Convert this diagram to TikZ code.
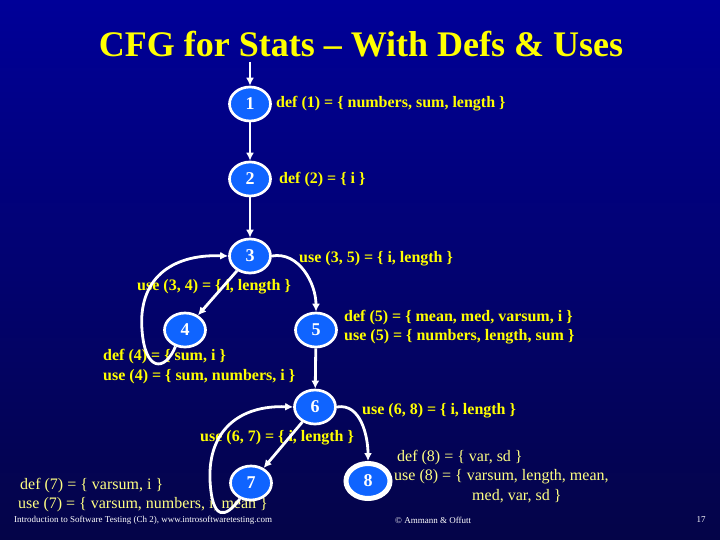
\documentclass[tikz,border=0pt]{standalone}
\usepackage{fontspec}
\setmainfont{Liberation Serif}
\usetikzlibrary{arrows.meta,shapes.geometric}
\definecolor{bgtop}{RGB}{0,0,152}
\definecolor{bgbot}{RGB}{4,4,72}
\definecolor{nodeblue}{RGB}{15,100,255}
\definecolor{ylw}{RGB}{255,255,0}
\definecolor{ylwl}{RGB}{255,255,130}
\begin{document}
\begin{tikzpicture}[x=1pt,y=-1pt,
 cfgnode/.style={ellipse, draw=white, line width=2.7pt, fill=nodeblue, minimum width=41pt, minimum height=34pt, inner sep=0pt, text=white, font=\bfseries\fontsize{18}{18}\selectfont},
 edge/.style={draw=white, line width=2.8pt, -{Latex[length=8pt,width=8pt]}},
 lbl/.style={text=ylw, font=\bfseries\fontsize{16}{18}\selectfont, anchor=west, inner sep=0pt},
 lbln/.style={text=ylwl, font=\fontsize{16}{18}\selectfont, anchor=west, inner sep=0pt},
 foot/.style={text=white, font=\fontsize{9}{10}\selectfont, inner sep=0pt}]
\shade[top color=bgtop, bottom color=bgbot] (0,0) rectangle (720,540);
\useasboundingbox (0,0) rectangle (720,540);

\node[text=ylw, font=\bfseries\fontsize{36}{38}\selectfont] (title) at (361,44) {CFG for Stats – With Defs \& Uses};

% labels
\node[lbl] (l1) at (276,104) {def (1) = \{ numbers, sum, length \}};
\node[lbl] (l2) at (279,180) {def (2) = \{ i \}};
\node[lbl] (l35) at (299,259) {use (3, 5) = \{ i, length \}};
\node[lbl] (l34) at (137,287) {use (3, 4) = \{ i, length \}};
\node[lbl] (l5a) at (344,318) {def (5) = \{ mean, med, varsum, i \}};
\node[lbl] (l5b) at (344,337) {use (5) = \{ numbers, length, sum \}};
\node[lbl] (l4a) at (103,357) {def (4) = \{ sum, i \}};
\node[lbl] (l4b) at (103,377) {use (4) = \{ sum, numbers, i \}};
\node[lbl] (l68) at (362,411) {use (6, 8) = \{ i, length \}};
\node[lbl] (l67) at (200,438) {use (6, 7) = \{ i, length \}};
\node[lbln] (l8a) at (397,458) {def (8) = \{ var, sd \}};
\node[lbln] (l8b) at (394,477) {use (8) = \{ varsum, length, mean,};
\node[lbln] (l8c) at (472,496) {med, var, sd \}};
\node[lbln] (l7a) at (20,486) {def (7) = \{ varsum, i \}};
\node[lbln] (l7b) at (18,505) {use (7) = \{ varsum, numbers, i, mean \}};

% footer
\node[foot, anchor=west] (f1) at (14,520) {Introduction to Software Testing (Ch 2), www.introsoftwaretesting.com};
\node[foot, anchor=west] (f2) at (395,520) {© Ammann \& Offutt};
\node[foot] (f3) at (701,520) {17};

% nodes
\coordinate (entry) at (250,62);
\node[cfgnode] (n1) at (250,104) {1};
\node[cfgnode] (n2) at (250,179) {2};
\node[cfgnode] (n3) at (250,256) {3};
\node[cfgnode] (n4) at (185,330) {4};
\node[cfgnode] (n5) at (316,330) {5};
\node[cfgnode] (n6) at (315,407) {6};
\node[cfgnode] (n7) at (251,483) {7};
\node[cfgnode, line width=5pt, minimum width=44pt, minimum height=35pt] (n8) at (368,481) {8};

% edges
\draw[edge] (entry) -- (n1);
\draw[edge] (n1) -- (n2);
\draw[edge] (n2) -- (n3);
\draw[edge] (n3) -- (n4);
\draw[edge] (n3.east) to[out=10,in=90] (n5.north);
\draw[edge] (n4.240) .. controls (165,372) and (145,372) .. (142,330) .. controls (138,280) and (170,254) .. (n3.west);
\draw[edge] (n5) -- (n6);
\draw[edge] (n6) -- (n7);
\draw[edge] (n6.east) to[out=10,in=90] (n8.north);
\draw[edge] (n7.235) .. controls (226,518) and (212,522) .. (210,480) .. controls (208,430) and (240,405) .. (n6.west);
\end{tikzpicture}
\end{document}
